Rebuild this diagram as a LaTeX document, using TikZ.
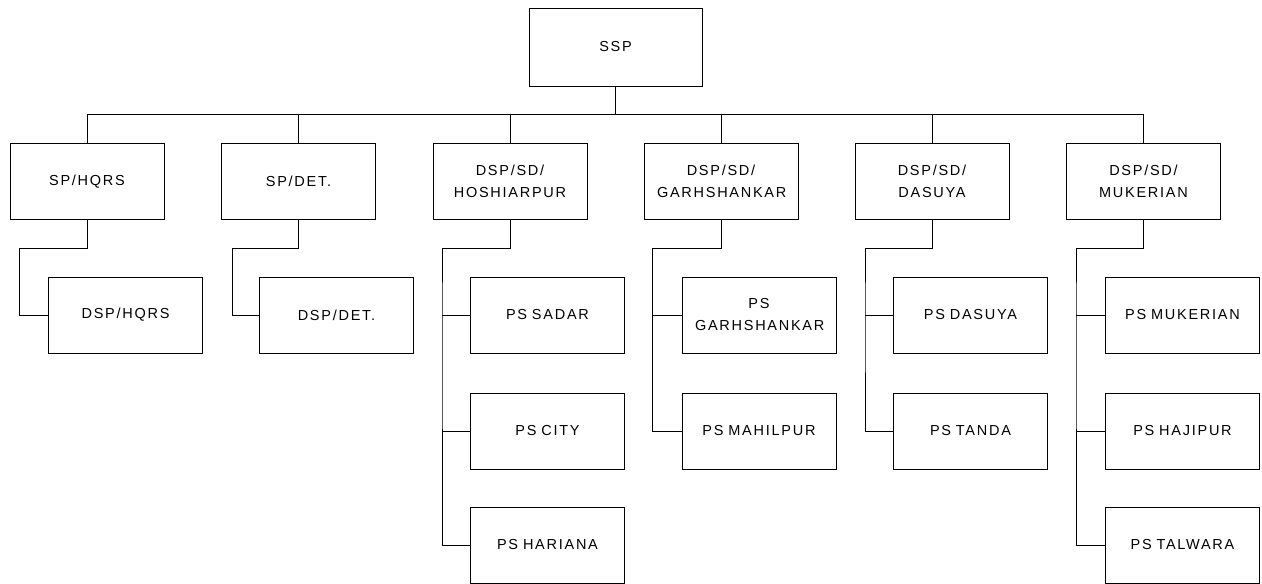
\documentclass[tikz,border=0pt]{standalone}
\usepackage{fontspec}
\newfontfamily\chartfont{Liberation Sans}[LetterSpace=12]
\tikzset{
  post/.style={draw,line width=1pt,minimum width=154pt,minimum height=76pt,
    text width=128pt,align=center,inner sep=0pt,
    font=\chartfont\fontsize{14.5}{22}\selectfont},
  link/.style={draw,line width=1pt}
}
\begin{document}
\begin{tikzpicture}
\begin{scope}[x=1pt,y=-1pt]
\useasboundingbox (0,0) rectangle (1262,584);

% top
\node[post,minimum width=173pt,minimum height=78pt] (ssp) at (615.5,47) {SSP};

% first level
\node[post] (sphqrs)  at (87,181.5)   {SP/HQRS};
\node[post] (spdet)   at (298.5,181.5) {SP/DET.};
\node[post] (sdhsp)   at (510,181.5)  {DSP/SD/\\HOSHIARPUR};
\node[post] (sdgsk)   at (721,181.5)  {DSP/SD/\\GARHSHANKAR};
\node[post] (sddsy)   at (932,181.5)  {DSP/SD/\\DASUYA};
\node[post] (sdmkn)   at (1143.5,181.5) {DSP/SD/\\MUKERIAN};

% second level
\node[post] (dsphqrs) at (125.5,315)  {DSP/HQRS};
\node[post] (dspdet)  at (336.5,315)  {DSP/DET.};

\node[post] (pssadar) at (547.5,315)  {PS SADAR};
\node[post] (pscity)  at (547.5,431)  {PS CITY};
\node[post] (pshrn)   at (547.5,545)  {PS HARIANA};

\node[post] (psgsk)   at (759,315)    {PS\\GARHSHANKAR};
\node[post] (psmhp)   at (759,431)    {PS MAHILPUR};

\node[post] (psdsy)   at (970.5,315)  {PS DASUYA};
\node[post] (pstnd)   at (970.5,431)  {PS TANDA};

\node[post] (psmkn)   at (1182.5,315) {PS MUKERIAN};
\node[post] (pshjp)   at (1182.5,431) {PS HAJIPUR};
\node[post] (pstlw)   at (1182.5,545) {PS TALWARA};

% bus from SSP
\foreach \c in {sphqrs,spdet,sdhsp,sdgsk,sddsy,sdmkn}
  \path[link] (ssp.south) -- ++(0,28) -| (\c.north);

% elbows to second level
\path[link] (sphqrs.south) -- ++(0,28) -| ([xshift=-29pt]dsphqrs.west) -- (dsphqrs.west);
\path[link] (spdet.south) -- ++(0,28) -| ([xshift=-27pt]dspdet.west) -- (dspdet.west);

\path[link] (sdhsp.south) -- ++(0,28) -| ([xshift=-28pt]pssadar.west) |- (pshrn.west);
\path[link] ([xshift=-28pt]pssadar.west) -- (pssadar.west);
\path[link] ([xshift=-28pt]pscity.west) -- (pscity.west);

\path[link] (sdgsk.south) -- ++(0,28) -| ([xshift=-29pt]psgsk.west) |- (psmhp.west);
\path[link] ([xshift=-29pt]psgsk.west) -- (psgsk.west);

\path[link] (sddsy.south) -- ++(0,28) -| ([xshift=-28pt]psdsy.west) |- (pstnd.west);
\path[link] ([xshift=-28pt]psdsy.west) -- (psdsy.west);

\path[link] (sdmkn.south) -- ++(0,28) -| ([xshift=-29pt]psmkn.west) |- (pstlw.west);
\path[link] ([xshift=-29pt]psmkn.west) -- (psmkn.west);
\path[link] ([xshift=-29pt]pshjp.west) -- (pshjp.west);

\end{scope}
\end{tikzpicture}
\end{document}
